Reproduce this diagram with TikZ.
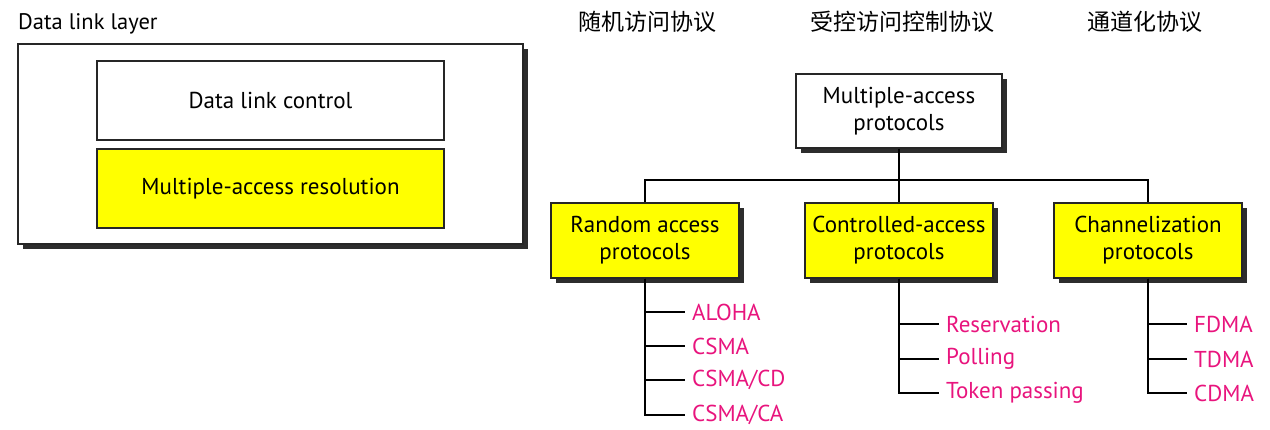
\documentclass[tikz,border=0pt]{standalone}
\usepackage{fontspec}
\setmainfont{PT Sans}
\newfontfamily\cjk{Noto Sans CJK SC}
\usetikzlibrary{shadows}
\definecolor{leafpink}{RGB}{232,20,125}
\definecolor{shadowgray}{RGB}{45,45,45}
\definecolor{boxyellow}{RGB}{255,255,0}
\tikzset{
  shadowed/.style={drop shadow={shadow xshift=5pt, shadow yshift=-5pt, fill=shadowgray, opacity=1}},
  boxbase/.style={draw=black!85, line width=1.3pt, align=center, inner sep=0pt,
     font=\fontsize{23}{27}\selectfont},
  whitebox/.style={boxbase, fill=white},
  yellowbox/.style={boxbase, fill=boxyellow},
  treebox/.style={yellowbox, shadowed, minimum width=188pt, minimum height=75pt},
  leaf/.style={anchor=west, inner xsep=7pt, inner ysep=0pt, text=leafpink,
     font=\fontsize{23}{27}\selectfont},
  cjklabel/.style={font=\cjk\fontsize{23}{26}\selectfont},
  tree/.style={line width=2.4pt, black}
}
\begin{document}
\begin{tikzpicture}[x=1pt,y=-1pt]
\useasboundingbox (0,0) rectangle (1270,430);
% left part
\node[whitebox, shadowed, minimum width=505pt, minimum height=200pt] (dll) at (270.5,144) {};
\node[anchor=base west, inner sep=0pt, font=\fontsize{22.5}{27}\selectfont] (dlltitle) at (18,30) {Data link layer};
\node[whitebox, minimum width=347pt, minimum height=79pt] (dlc) at (270.5,100.5) {Data link control};
\node[yellowbox, minimum width=347pt, minimum height=79pt] (mar) at (270.5,188.5) {Multiple-access resolution};
% chinese labels
\node[cjklabel] (zh1) at (647,22) {随机访问协议};
\node[cjklabel] (zh2) at (902,22) {受控访问控制协议};
\node[cjklabel] (zh3) at (1145,22) {通道化协议};
% tree
\node[whitebox, shadowed, minimum width=206pt, minimum height=74pt] (root) at (899,111) {Multiple-access\\protocols};
\node[treebox] (rand) at (645,240.5) {Random access\\protocols};
\node[treebox] (ctrl) at (899,240.5) {Controlled-access\\protocols};
\node[treebox] (chan) at (1148,240.5) {Channelization\\protocols};
\coordinate (bus) at (899,180);
\draw[tree] (root.south) -- (bus);
\draw[tree] (rand.north) |- (bus) -| (chan.north);
\draw[tree] (bus) -- (ctrl.north);
% leaves
\node[leaf] (aloha) at (685,312) {ALOHA};
\node[leaf] (csma) at (685,346) {CSMA};
\node[leaf] (csmacd) at (685,380) {CSMA/CD};
\node[leaf] (csmaca) at (685,415) {CSMA/CA};
\node[leaf] (resv) at (939,324) {Reservation};
\node[leaf] (poll) at (939,359) {Polling};
\node[leaf] (token) at (939,393) {Token passing};
\node[leaf] (fdma) at (1187,324) {FDMA};
\node[leaf] (tdma) at (1187,359) {TDMA};
\node[leaf] (cdma) at (1187,393) {CDMA};
\foreach \l in {aloha,csma,csmacd,csmaca}{\draw[tree] (rand.south) |- (\l.west);}
\foreach \l in {resv,poll,token}{\draw[tree] (ctrl.south) |- (\l.west);}
\foreach \l in {fdma,tdma,cdma}{\draw[tree] (chan.south) |- (\l.west);}
\end{tikzpicture}
\end{document}
